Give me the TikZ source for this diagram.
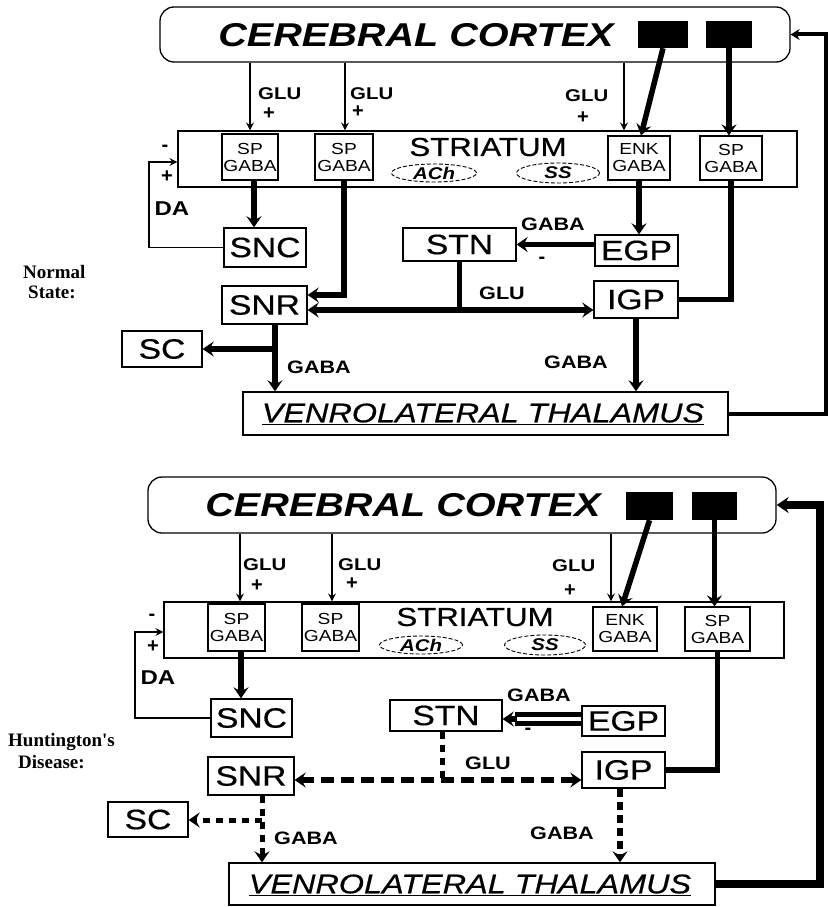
\documentclass[tikz,border=0pt]{standalone}
\usepackage{fontspec}
\setmainfont{Liberation Sans}
\newfontfamily\wf[FakeStretch=1.2]{Liberation Sans}
\newfontfamily\wfb[FakeStretch=1.2,FakeBold=0.6]{Liberation Sans}
\newfontfamily\serf{Liberation Serif}
\usetikzlibrary{arrows.meta,shapes.geometric}
\begin{document}
\begin{tikzpicture}[x=1pt,y=-1pt,
  bx/.style={draw, line width=1.3pt, inner sep=0pt, font=\wfb\fontsize{28}{30}\selectfont},
  sbx/.style={draw, line width=1.2pt, inner sep=0pt, align=center, font=\wf\fontsize{16}{17}\selectfont},
  ctx/.style={draw, line width=1.3pt, rounded corners=14pt, inner sep=0pt},
  sq/.style={fill=black, inner sep=0pt},
  ctxt/.style={inner sep=0pt, font=\wf\bfseries\itshape\fontsize{33}{36}\selectfont},
  strt/.style={inner sep=0pt, font=\wfb\fontsize{26}{28}\selectfont},
  vlt/.style={inner sep=0pt, font=\wfb\itshape\fontsize{27}{30}\selectfont},
  lbl/.style={inner sep=0pt, font=\wf\bfseries\fontsize{18}{20}\selectfont},
  glu/.style={inner sep=0pt, anchor=west, font=\wf\bfseries\fontsize{17}{18}\selectfont},
  sgn/.style={inner sep=0pt, font=\bfseries\fontsize{20}{20}\selectfont},
  dalbl/.style={inner sep=0pt, font=\wf\bfseries\fontsize{20}{22}\selectfont},
  state/.style={inner sep=0pt, anchor=west, font=\serf\bfseries\fontsize{19}{20}\selectfont},
  ell/.style={ellipse, draw, dash pattern=on 4pt off 2pt, line width=0.9pt, inner sep=0pt, font=\wf\bfseries\itshape\fontsize{17}{17}\selectfont},
  tarr/.style={line width=1.3pt, -{Stealth[length=8pt,width=8pt,inset=3pt]}},
  tline/.style={line width=1.3pt},
  fline/.style={line width=5.5pt},
  farr/.style={line width=5.5pt, -{Stealth[length=11pt,width=15pt,inset=4pt]}},
  fboth/.style={line width=5.5pt, {Stealth[length=11pt,width=15pt,inset=4pt]}-{Stealth[length=11pt,width=15pt,inset=4pt]}},
  dashh/.style={line width=6pt, dash pattern=on 13pt off 7pt},
  dashv/.style={line width=5pt, dash pattern=on 7pt off 6pt},
]
\useasboundingbox (0,0) rectangle (828,907);

%%%%%%%%%%%%%%%% TOP PANEL: NORMAL STATE %%%%%%%%%%%%%%%%
\node[ctx, minimum width=630pt, minimum height=55pt] (ctx1) at (475,34.5) {};
\node[ctxt] (ctx1t) at (416,35) {CEREBRAL CORTEX};
\node[sq, minimum width=50pt, minimum height=27pt] (sqa) at (663,34.5) {};
\node[sq, minimum width=46pt, minimum height=27pt] (sqb) at (729,34.5) {};

\node[draw, line width=1.3pt, minimum width=619pt, minimum height=56pt, inner sep=0pt] (str1) at (487.5,159) {};
\node[strt] (str1t) at (488,147) {STRIATUM};
\node[ell, minimum width=85pt, minimum height=18pt] (ach1) at (434,173) {ACh};
\node[ell, minimum width=83pt, minimum height=20pt] (ss1) at (558,173) {SS};
\node[sbx, minimum width=56pt, minimum height=46pt] (spa1) at (250,157) {SP\\GABA};
\node[sbx, minimum width=58pt, minimum height=46pt] (spb1) at (344,157) {SP\\GABA};
\node[sbx, minimum width=62pt, minimum height=44pt] (enk1) at (639,158) {ENK\\GABA};
\node[sbx, minimum width=62pt, minimum height=44pt] (spc1) at (731,158) {SP\\GABA};

\node[bx, minimum width=82pt, minimum height=39pt] (snc1) at (265,247.5) {SNC};
\node[bx, minimum width=113pt, minimum height=33pt] (stn1) at (459.5,244.5) {STN};
\node[bx, minimum width=83pt, minimum height=31pt] (egp1) at (636.5,250.5) {EGP};
\node[bx, minimum width=85pt, minimum height=38pt] (snr1) at (264.5,305) {SNR};
\node[bx, minimum width=84pt, minimum height=37pt] (igp1) at (636,299.5) {IGP};
\node[bx, minimum width=80pt, minimum height=36pt] (sc1) at (162,349) {SC};
\node[draw, line width=1.3pt, minimum width=485pt, minimum height=43pt, inner sep=0pt] (vl1) at (485.5,413.5) {};
\node[vlt] (vl1t) at (483,414) {\underline{VENROLATERAL THALAMUS}};

\node[state] (ns1) at (23,272) {Normal};
\node[state] (ns2) at (28,292) {State:};

% cortex -> striatum
\coordinate (ga1) at (250,100);
\coordinate (gb1) at (345,100);
\coordinate (gc1) at (624,100);
\draw[tarr] (ctx1.south -| ga1) -- (str1.north -| ga1);
\draw[tarr] (ctx1.south -| gb1) -- (str1.north -| gb1);
\draw[tarr] (ctx1.south -| gc1) -- (str1.north -| gc1);
\draw[farr] (sqa.south) -- ([xshift=2pt]enk1.north);
\draw[farr] (sqb.south) -- (sqb.south |- spc1.north);
\node[glu] (glua1) at (258,94) {GLU};
\node[sgn] (pla1) at (269,114) {+};
\node[glu] (glub1) at (350,94) {GLU};
\node[sgn] (plb1) at (358,112) {+};
\node[glu] (gluc1) at (565,96) {GLU};
\node[sgn] (plc1) at (583,118) {+};

% DA loop
\coordinate (da1) at (149,162);
\draw[tarr] (snc1.west) -| (da1) -- (da1 -| str1.west);
\node[sgn] (mda1) at (165,148) {-};
\node[sgn] (pda1) at (167,177) {+};
\node[dalbl] (dat1) at (172,209) {DA};

% striatum outputs
\coordinate (x1) at (254,0);
\draw[farr] (spa1.south -| x1) -- (snc1.north -| x1);
\draw[farr] (spb1.south) |- ([yshift=10pt]snr1.east);
\draw[farr] (enk1.south) -- (enk1.south |- egp1.north);
\draw[fline] (spc1.south) |- (igp1.east);
\draw[farr] (egp1.west |- stn1.east) -- (stn1.east);
\node[lbl] (gaba1a) at (553,224) {GABA};
\node[sgn] (m1a) at (542,260) {-};

% STN -> SNR / IGP
\coordinate (h1) at (459.5,310);
\draw[fboth] (h1 -| snr1.east) -- (h1 -| igp1.west);
\draw[fline] (stn1.south) -- (h1);
\node[lbl] (glum1) at (502,293) {GLU};

% outputs to thalamus
\coordinate (v1) at (275,0);
\coordinate (b1) at (275,349);
\draw[farr] (snr1.south -| v1) -- (vl1.north -| v1);
\draw[farr] (b1) -- (sc1.east);
\node[lbl] (gaba1b) at (319,367) {GABA};
\draw[farr] (igp1.south) -- (igp1.south |- vl1.north);
\node[lbl] (gaba1c) at (576,362) {GABA};

% thalamus -> cortex
\coordinate (r1) at (826,0);
\draw[line width=4pt, -{Stealth[length=9pt,width=11pt,inset=3pt]}] (vl1.east) -- (vl1.east -| r1) -- (ctx1.east -| r1) -- (ctx1.east);

%%%%%%%%%%%%%%%% BOTTOM PANEL: HUNTINGTON'S %%%%%%%%%%%%%%%%
\node[ctx, minimum width=628pt, minimum height=56pt] (ctx2) at (462,505) {};
\node[ctxt] (ctx2t) at (403,505) {CEREBRAL CORTEX};
\node[sq, minimum width=47pt, minimum height=28pt] (sqa2) at (649.5,506) {};
\node[sq, minimum width=45pt, minimum height=28pt] (sqb2) at (714.5,506) {};

\node[draw, line width=1.3pt, minimum width=620pt, minimum height=56pt, inner sep=0pt] (str2) at (474,630) {};
\node[strt] (str2t) at (475,617) {STRIATUM};
\node[ell, minimum width=83pt, minimum height=18pt] (ach2) at (421,645) {ACh};
\node[ell, minimum width=81pt, minimum height=20pt] (ss2) at (545,645) {SS};
\node[sbx, minimum width=57pt, minimum height=47pt] (spa2) at (236.5,627.5) {SP\\GABA};
\node[sbx, minimum width=57pt, minimum height=47pt] (spb2) at (330.5,627.5) {SP\\GABA};
\node[sbx, minimum width=64pt, minimum height=44pt] (enk2) at (625,629) {ENK\\GABA};
\node[sbx, minimum width=65pt, minimum height=44pt] (spc2) at (717.5,629) {SP\\GABA};

\node[bx, minimum width=81pt, minimum height=38pt] (snc2) at (251.5,718) {SNC};
\node[bx, minimum width=112pt, minimum height=31pt] (stn2) at (446,715.5) {STN};
\node[bx, minimum width=83pt, minimum height=30pt] (egp2) at (623.5,721) {EGP};
\node[bx, minimum width=86pt, minimum height=38pt] (snr2) at (251,776) {SNR};
\node[bx, minimum width=83pt, minimum height=36pt] (igp2) at (623.5,770) {IGP};
\node[bx, minimum width=80pt, minimum height=35pt] (sc2) at (148,819.5) {SC};
\node[draw, line width=1.3pt, minimum width=486pt, minimum height=42pt, inner sep=0pt] (vl2) at (472,884) {};
\node[vlt] (vl2t) at (470,885) {\underline{VENROLATERAL THALAMUS}};

\node[state] (hd1) at (8,742) {Huntington's};
\node[state] (hd2) at (18,762) {Disease:};

% cortex -> striatum
\coordinate (ga2) at (240,560);
\coordinate (gb2) at (332,560);
\coordinate (gc2) at (611,560);
\draw[tarr] (ctx2.south -| ga2) -- (str2.north -| ga2);
\draw[tarr] (ctx2.south -| gb2) -- (str2.north -| gb2);
\draw[tarr] (ctx2.south -| gc2) -- (str2.north -| gc2);
\draw[farr] (sqa2.south) -- ([xshift=-3pt]enk2.north);
\draw[farr] (sqb2.south) -- (sqb2.south |- spc2.north);
\node[glu] (glua2) at (243,565) {GLU};
\node[sgn] (pla2) at (257,586) {+};
\node[glu] (glub2) at (338,565) {GLU};
\node[sgn] (plb2) at (352,584) {+};
\node[glu] (gluc2) at (552,566) {GLU};
\node[sgn] (plc2) at (570,591) {+};

% DA loop
\coordinate (da2) at (135,632);
\draw[tarr] (snc2.west) -| (da2) -- (da2 -| str2.west);
\node[sgn] (mda2) at (152,617) {-};
\node[sgn] (pda2) at (153,647) {+};
\node[dalbl] (dat2) at (158,678) {DA};

% striatum outputs
\coordinate (x2) at (241,0);
\draw[farr] (spa2.south -| x2) -- (snc2.north -| x2);
\draw[fline] (spc2.south) |- (igp2.east);

% EGP -> STN (double line)
\coordinate (dl) at (0,719);
\draw[line width=5pt, double, double distance=4pt] (egp2.west |- dl) -- ([xshift=12pt]stn2.east |- dl);
\draw[farr] ([xshift=14pt]stn2.east |- dl) -- (stn2.east |- dl);
\node[lbl] (gaba2a) at (539,695) {GABA};
\node[sgn] (m2a) at (528,731) {-};

% STN -> SNR / IGP (dashed)
\coordinate (h2) at (442,780);
\draw[dashh, {Stealth[length=11pt,width=15pt,inset=4pt]}-{Stealth[length=11pt,width=15pt,inset=4pt]}] (h2 -| snr2.east) -- (h2 -| igp2.west);
\draw[dashv] (stn2.south -| h2) -- (h2);
\node[lbl] (glum2) at (488,763) {GLU};

% outputs to thalamus (dashed)
\coordinate (v2) at (262,0);
\coordinate (b2) at (262,820);
\draw[dashv, -{Stealth[length=11pt,width=15pt,inset=4pt]}] (snr2.south -| v2) -- (vl2.north -| v2);
\draw[dashv, -{Stealth[length=11pt,width=15pt,inset=4pt]}] (b2) -- (b2 -| sc2.east);
\node[lbl] (gaba2b) at (306,838) {GABA};
\coordinate (v3) at (620,0);
\draw[line width=6pt, dash pattern=on 8pt off 5pt, -{Stealth[length=11pt,width=15pt,inset=4pt]}] (igp2.south -| v3) -- (vl2.north -| v3);
\node[lbl] (gaba2c) at (562,833) {GABA};

% thalamus -> cortex
\coordinate (r2) at (820,0);
\draw[line width=8pt, -{Stealth[length=12pt,width=16pt,inset=4pt]}] (vl2.east) -- (vl2.east -| r2) -- (ctx2.east -| r2) -- (ctx2.east);

\end{tikzpicture}
\end{document}
